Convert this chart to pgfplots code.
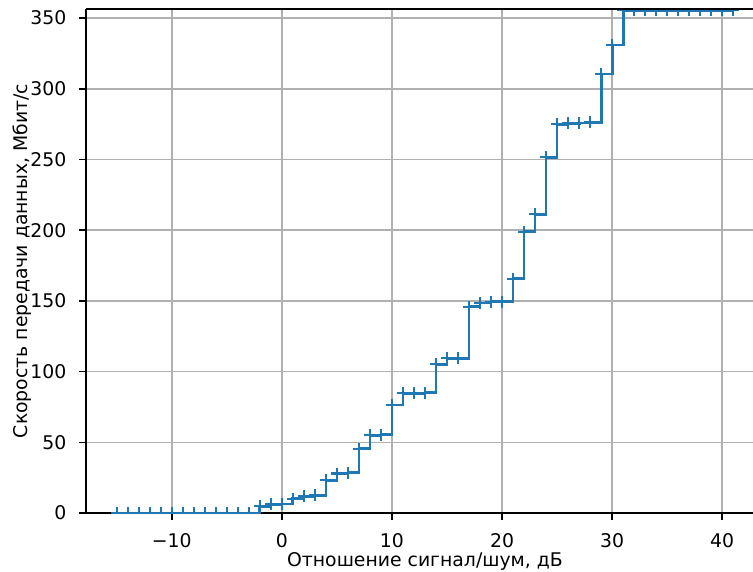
\documentclass[border=0pt]{standalone}
\usepackage{fontspec}
\setmainfont{DejaVu Sans}
\usepackage{pgfplots}
\pgfplotsset{compat=1.18}
\usetikzlibrary{calc}
\definecolor{mplblue}{HTML}{1F77B4}
\definecolor{gridgray}{HTML}{B0B0B0}
\pgfplotstableread{
x y
-15 0
-14 0
-13 0
-12 0
-11 0
-10 0
-9 0
-8 0
-7 0
-6 0
-5 0
-4 0
-3 0
-2 4.8
-1 6.1
0 6.4
1 10.1
2 12.0
3 12.7
4 23.3
5 28.0
6 28.5
7 45.5
8 55.1
9 55.3
10 76.4
11 84.6
12 84.7
13 85.0
14 105.1
15 109.4
16 109.5
17 146.0
18 148.5
19 149.4
20 149.5
21 165.8
22 198.9
23 211.2
24 251.5
25 274.8
26 275.5
27 275.8
28 276.2
29 310.4
30 330.9
31 355.5
32 355.5
33 355.5
34 355.5
35 355.5
36 355.5
37 355.5
38 355.5
39 355.5
40 355.5
41 355.5
}\datatable
\begin{document}
\begin{tikzpicture}
\begin{axis}[
  scale only axis,
  width=400.4pt, height=302.6pt,
  xmin=-17.8, xmax=42.8,
  ymin=0, ymax=356.4,
  axis lines*=left,
  axis line style={line width=0.9pt, black},
  tick align=outside,
  major tick length=3.95pt,
  every tick/.style={black, line width=0.9pt},
  xtick={-10,0,10,20,30,40},
  xticklabels={−10,0,10,20,30,40},
  ytick={0,50,100,150,200,250,300,350},
  /pgf/number format/assume math mode=true,
  xticklabel style={font=\fontsize{11.3}{13.5}\selectfont, inner sep=0pt, anchor=base, yshift=-16.8pt},
  yticklabel style={font=\fontsize{11.3}{13.5}\selectfont, inner sep=0pt, anchor=east, xshift=-7.6pt},
  every axis x label/.style={at={(axis description cs:0.5,0)}, anchor=base, xshift=3.3pt, yshift=-32.1pt, inner sep=0pt, font=\fontsize{11.3}{13.5}\selectfont},
  every axis y label/.style={at={(axis description cs:0,0.5)}, xshift=-38.6pt, rotate=90, anchor=center, inner sep=0pt, font=\fontsize{11.3}{13.5}\selectfont},
  grid=major,
  major grid style={gridgray, line width=0.9pt},
  xlabel={Отношение сигнал/шум, дБ},
  ylabel={Скорость передачи данных, Мбит/с},
  clip marker paths=true,
]
\addplot[const plot mark left, color=mplblue, line width=1.7pt,
  mark=+, mark size=3.6pt, mark options={line width=1.25pt, solid}]
  table[x=x, y=y] {\datatable};
\draw[line width=0.9pt, black] (rel axis cs:0,1) -- (rel axis cs:1,1);
\end{axis}
\pgfresetboundingbox
\useasboundingbox ($(current axis.south west)+(-51.6pt,-34.8pt)$) rectangle ($(current axis.north east)+(0pt,5.4pt)$);
\end{tikzpicture}
\end{document}
